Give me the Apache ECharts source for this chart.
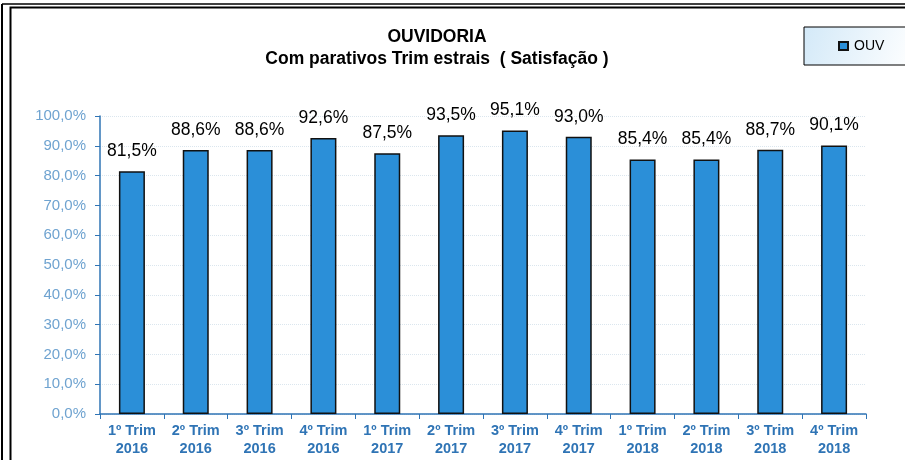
<!DOCTYPE html>
<html>
<head>
<meta charset="utf-8">
<script src="https://cdn.jsdelivr.net/npm/echarts@6/dist/echarts.min.js"></script>
<style>
  html, body { margin: 0; padding: 0; background: #fff; }
  #chart { width: 905px; height: 460px; }
</style>
</head>
<body>
<div id="chart"></div>
<script>
// trimestres e percentuais de satisfação
const categories = ['1º Trim\n2016', '2º Trim\n2016', '3º Trim\n2016', '4º Trim\n2016',
  '1º Trim\n2017', '2º Trim\n2017', '3º Trim\n2017', '4º Trim\n2017',
  '1º Trim\n2018', '2º Trim\n2018', '3º Trim\n2018', '4º Trim\n2018'];
const ouvValues = [81.5, 88.6, 88.6, 92.6, 87.5, 93.5, 95.1, 93.0, 85.4, 85.4, 88.7, 90.1];
const yTicks = [0, 10, 20, 30, 40, 50, 60, 70, 80, 90, 100];

const fmt = v => v.toFixed(1).replace('.', ',') + '%';

const chart = echarts.init(document.getElementById('chart'));
chart.setOption({
  animation: false,
  title: {
    text: 'OUVIDORIA\nCom parativos Trim estrais  ( Satisfação )',
    left: 432,
    textAlign: 'center',
    top: 21,
    textStyle: {
      fontFamily: 'Liberation Sans, Arial',
      fontSize: 17.5,
      fontWeight: 'bold',
      color: '#000',
      lineHeight: 22
    }
  },
  legend: {
    data: ['OUV'],
    left: 804,
    top: 27,
    padding: [12, 30, 12, 34],
    itemWidth: 9,
    itemHeight: 8,
    itemGap: 4,
    icon: 'rect',
    borderColor: '#000',
    borderWidth: 1,
    backgroundColor: new echarts.graphic.LinearGradient(0, 0, 1, 1, [
      { offset: 0, color: '#d3e9f8' },
      { offset: 1, color: '#ffffff' }
    ]),
    textStyle: { fontFamily: 'Liberation Sans, Arial', fontSize: 14, color: '#000', padding: [0, 0, 0, 1] }
  },
  grid: { left: 100, right: 39, top: 116, bottom: 46 },
  xAxis: {
    type: 'category',
    data: categories,
    axisLine: { lineStyle: { color: '#2f74b5', width: 1.5 } },
    axisTick: { show: true, length: 5, inside: false, lineStyle: { color: '#2f74b5' } },
    axisLabel: {
      interval: 0,
      margin: 8,
      fontFamily: 'Liberation Sans, Arial',
      fontSize: 14.5,
      fontWeight: 'bold',
      color: '#2f74b5',
      lineHeight: 18
    }
  },
  yAxis: {
    type: 'value',
    min: yTicks[0],
    max: yTicks[yTicks.length - 1],
    interval: 10,
    axisLine: { show: true, lineStyle: { color: '#2f74b5', width: 1.5 } },
    axisTick: { show: true, length: 5, lineStyle: { color: '#2f74b5' } },
    axisLabel: {
      margin: 14,
      fontFamily: 'Liberation Sans, Arial',
      fontSize: 15,
      color: '#6fa3d0',
      formatter: v => fmt(v)
    },
    splitLine: { show: true, lineStyle: { color: '#dbe6ee', type: 'dotted', width: 1 } }
  },
  series: [{
    name: 'OUV',
    type: 'bar',
    data: ouvValues,
    barWidth: 26,
    itemStyle: {
      color: '#2b8fd8',
      borderColor: '#111',
      borderWidth: 1.5
    },
    label: {
      show: true,
      position: 'top',
      distance: 11,
      fontFamily: 'Liberation Sans, Arial',
      fontSize: 17.5,
      color: '#000',
      formatter: p => fmt(p.value)
    }
  }],
  graphic: [
    { type: 'rect', shape: { x: 10.5, y: 7.5, width: 900, height: 460 }, style: { fill: 'none', stroke: '#000', lineWidth: 2 } },
    { type: 'line', shape: { x1: 2, y1: 4, x2: 2, y2: 460 }, style: { stroke: '#000', lineWidth: 2 } },
    { type: 'line', shape: { x1: 2, y1: 4, x2: 905, y2: 4 }, style: { stroke: '#000', lineWidth: 1.5 } }
  ]
});
</script>
</body>
</html>
